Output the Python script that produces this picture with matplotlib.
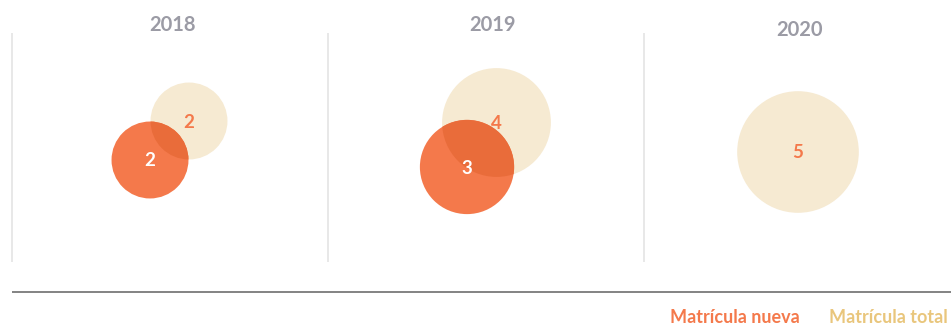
import matplotlib
matplotlib.use("Agg")
import matplotlib.pyplot as plt
from matplotlib.patches import Circle
import numpy as np

# Enrollment per year
years = ["2018", "2019", "2020"]
matricula_total = [2, 4, 5]
matricula_nueva = [2, 3, None]

legend_labels = ["Matrícula nueva", "Matrícula total"]

COLOR_NUEVA = "#F4794B"
COLOR_OVERLAP = "#E96C3A"
COLOR_TOTAL = "#F6EAD2"
COLOR_TOTAL_TEXT = "#E9C67C"
COLOR_TITLE = "#9B9BA5"

FONT = ["Lato", "DejaVu Sans"]

W, H = 951, 327
fig = plt.figure(figsize=(W / 100, H / 100), dpi=100)
ax = fig.add_axes([0, 0, 1, 1])
ax.set_xlim(0, W)
ax.set_ylim(H, 0)
ax.set_aspect("equal")
ax.axis("off")

# radius scale: area proportional to the value
R_SCALE = 27.2


def radius(v):
    return R_SCALE * np.sqrt(v)


# panel layout (pixel space)
panel_left = [12, 328, 644]
title_pos = [(172.5, 25), (492.5, 25), (799.5, 30)]
total_pos = [(189, 121), (496.5, 122.5), (798, 152)]
nueva_pos = [(150, 160), (467, 167), None]

for i, year in enumerate(years):
    x0 = panel_left[i]
    ax.plot([x0, x0], [33, 262], color="#E6E6E6", lw=1.3, solid_capstyle="butt")
    tx, ty = title_pos[i]
    ax.text(tx, ty, year, ha="center", va="center", color=COLOR_TITLE,
            fontsize=14.5, fontweight="bold", family=FONT)

    t = matricula_total[i]
    cx, cy = total_pos[i]
    total_circle = Circle((cx, cy), radius(t), facecolor=COLOR_TOTAL,
                          edgecolor="none", zorder=1)
    ax.add_patch(total_circle)

    n = matricula_nueva[i]
    if n is not None:
        nx, ny = nueva_pos[i]
        ax.add_patch(Circle((nx, ny), radius(n), facecolor=COLOR_NUEVA,
                            edgecolor="none", zorder=2))
        overlap = Circle((nx, ny), radius(n), facecolor=COLOR_OVERLAP,
                         edgecolor="none", zorder=3)
        ax.add_patch(overlap)
        clip = Circle((cx, cy), radius(t), transform=ax.transData)
        overlap.set_clip_path(clip)
        ax.text(nx, ny + 1, str(n), ha="center", va="center", color="white",
                fontsize=13.5, fontweight="bold", family=FONT, zorder=5)

    ax.text(cx, cy + 1, str(t), ha="center", va="center", color=COLOR_NUEVA,
            fontsize=13.5, fontweight="bold", family=FONT, zorder=5)

# baseline rule
ax.plot([12, W], [292, 292], color="#6E6E6E", lw=1.2, solid_capstyle="butt")

# legend
ax.text(800, 323, legend_labels[0], ha="right", va="baseline",
        color=COLOR_NUEVA, fontsize=13, fontweight="bold", family=FONT)
ax.text(829, 323, legend_labels[1], ha="left", va="baseline",
        color=COLOR_TOTAL_TEXT, fontsize=13, fontweight="bold", family=FONT)

fig.savefig("out.png", dpi=100)
